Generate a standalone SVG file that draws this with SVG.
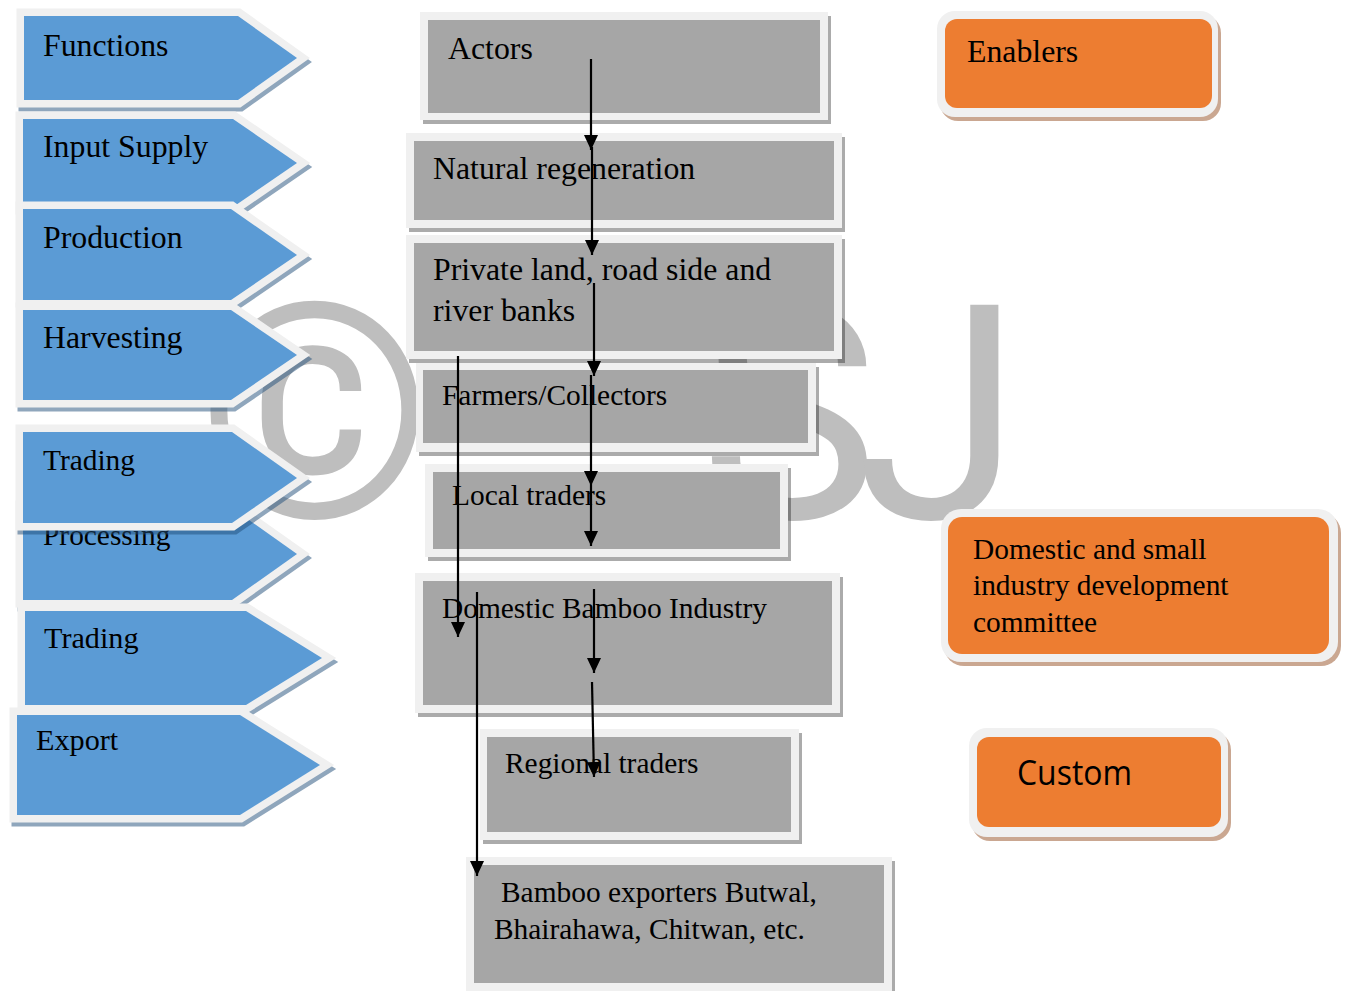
<svg xmlns="http://www.w3.org/2000/svg" width="1346" height="991" viewBox="0 0 1346 991">
<defs>
<style>
.t{font-family:"Liberation Serif","Times New Roman",serif;font-size:31.8px;fill:#000}
.s{font-size:29.4px}
.m{font-size:30.2px}
.wm{font-family:Roboto,"Liberation Sans",sans-serif;font-size:300px;fill:#BEBEBE}
.chev{fill:#5B9BD5;stroke:#F0F0F0;stroke-width:15;stroke-linejoin:miter;stroke-miterlimit:4;paint-order:stroke}
.chs{fill:#1F4E79;fill-opacity:.5;stroke:#1F4E79;stroke-opacity:.5;stroke-width:15;stroke-linejoin:miter;stroke-miterlimit:4}
.bo{fill:#F0F0F0}
.bi{fill:#A6A6A6}
.bs{fill:#000;fill-opacity:.33}
.oo{fill:#F0F0F0}
.oi{fill:#ED7D31}
.os{fill:#8A3C0C;fill-opacity:.45}
.ar{stroke:#000;stroke-width:2.2;fill:none;marker-end:url(#ah)}
</style>
<marker id="ah" markerUnits="userSpaceOnUse" viewBox="0 0 15 14" refX="15" refY="7" markerWidth="15" markerHeight="14" orient="auto">
<path d="M0,0 L15,7 L0,14 z" fill="#000"/>
</marker>
</defs>
<rect width="1346" height="991" fill="#FFFFFF"/>

<g id="watermark">
<text class="wm" x="197" y="517">©</text>
<text class="wm" x="700" y="518">S</text>
<text class="wm" x="856" y="518">J</text>
</g>

<g id="functions">
<polygon class="chs" transform="translate(2,4)" points="24,16 238,16 297,58 238,100 24,100"/>
<polygon class="chev" points="24,16 238,16 297,58 238,100 24,100"/>
<text class="t" x="43" y="56">Functions</text>
</g>
<g id="input-supply">
<polygon class="chs" transform="translate(2,4)" points="23,119 233,119 297,163 233,207 23,207"/>
<polygon class="chev" points="23,119 233,119 297,163 233,207 23,207"/>
<text class="t" x="43" y="157">Input Supply</text>
</g>
<g id="production">
<polygon class="chs" transform="translate(2,4)" points="23,209 231,209 297,255 231,300 23,300"/>
<polygon class="chev" points="23,209 231,209 297,255 231,300 23,300"/>
<text class="t" x="43" y="248">Production</text>
</g>
<g id="harvesting">
<polygon class="chs" transform="translate(2,4)" points="23,310 231,310 297,355 231,400 23,400"/>
<polygon class="chev" points="23,310 231,310 297,355 231,400 23,400"/>
<text class="t" x="43" y="348">Harvesting</text>
</g>
<g id="processing">
<polygon class="chs" transform="translate(2,4)" points="23,508 232,508 297,554 232,600 23,600"/>
<polygon class="chev" points="23,508 232,508 297,554 232,600 23,600"/>
<text class="t s" x="43" y="545">Processing</text>
</g>
<g id="trading-1">
<polygon class="chs" transform="translate(2,4)" points="23,432 232,432 297,478 232,523 23,523"/>
<polygon class="chev" points="23,432 232,432 297,478 232,523 23,523"/>
<text class="t s" x="43" y="470">Trading</text>
</g>
<g id="trading-2">
<polygon class="chs" transform="translate(2,4)" points="25,611 246,611 322,658 246,705 25,705"/>
<polygon class="chev" points="25,611 246,611 322,658 246,705 25,705"/>
<text class="t m" x="44" y="648">Trading</text>
</g>
<g id="export">
<polygon class="chs" transform="translate(2,4)" points="17,715 240,715 320,765 240,815 17,815"/>
<polygon class="chev" points="17,715 240,715 320,765 240,815 17,815"/>
<text class="t m" x="36" y="750">Export</text>
</g>

<g id="actors">
<rect class="bs" x="423" y="16" width="408" height="108"/>
<rect class="bo" x="420" y="12" width="408" height="108"/>
<rect class="bi" x="428" y="20" width="392" height="93"/>
<text class="t" x="448" y="59">Actors</text>
</g>
<g id="natural-regeneration">
<rect class="bs" x="409" y="137" width="436" height="95"/>
<rect class="bo" x="406" y="133" width="436" height="95"/>
<rect class="bi" x="414" y="141" width="420" height="79"/>
<text class="t" x="433" y="179">Natural regeneration</text>
</g>
<g id="private-land">
<rect class="bs" x="409" y="239" width="436" height="124"/>
<rect class="bo" x="406" y="235" width="436" height="124"/>
<rect class="bi" x="414" y="243" width="420" height="108"/>
<text class="t" x="433" y="280">Private land, road side and</text>
<text class="t" x="433" y="321">river banks</text>
</g>
<g id="farmers-collectors">
<rect class="bs" x="419" y="367" width="400" height="89"/>
<rect class="bo" x="416" y="363" width="400" height="89"/>
<rect class="bi" x="423" y="370" width="385" height="73"/>
<text class="t s" x="442" y="405">Farmers/Collectors</text>
</g>
<g id="local-traders">
<rect class="bs" x="428" y="468" width="363" height="93"/>
<rect class="bo" x="425" y="464" width="363" height="93"/>
<rect class="bi" x="433" y="472" width="347" height="77"/>
<text class="t s" x="452" y="505">Local traders</text>
</g>
<g id="domestic-bamboo-industry">
<rect class="bs" x="418" y="577" width="425" height="140"/>
<rect class="bo" x="415" y="573" width="425" height="140"/>
<rect class="bi" x="423" y="581" width="409" height="124"/>
<text class="t s" x="442" y="618">Domestic Bamboo Industry</text>
</g>
<g id="regional-traders">
<rect class="bs" x="483" y="733" width="319" height="111"/>
<rect class="bo" x="480" y="729" width="319" height="111"/>
<rect class="bi" x="487" y="737" width="304" height="95"/>
<text class="t s" x="505" y="773">Regional traders</text>
</g>
<g id="bamboo-exporters">
<rect class="bs" x="469" y="861" width="426" height="140"/>
<rect class="bo" x="466" y="857" width="426" height="140"/>
<rect class="bi" x="474" y="865" width="410" height="118"/>
<text class="t s" x="501" y="902">Bamboo exporters Butwal,</text>
<text class="t s" x="494" y="939">Bhairahawa, Chitwan, etc.</text>
</g>

<g id="enablers">
<rect class="os" x="940" y="15" width="281" height="106" rx="18"/>
<rect class="oo" x="937" y="11" width="281" height="106" rx="18"/>
<rect class="oi" x="945" y="19" width="267" height="89" rx="12"/>
<text class="t" x="967" y="62">Enablers</text>
</g>
<g id="domestic-small-industry">
<rect class="os" x="944" y="513" width="397" height="153" rx="20"/>
<rect class="oo" x="941" y="509" width="397" height="153" rx="20"/>
<rect class="oi" x="948" y="517" width="381" height="137" rx="14"/>
<text class="t s" x="973" y="559">Domestic and small</text>
<text class="t s" x="973" y="595">industry development</text>
<text class="t s" x="973" y="632">committee</text>
</g>
<g id="custom">
<rect class="os" x="972" y="732" width="259" height="109" rx="18"/>
<rect class="oo" x="969" y="728" width="259" height="109" rx="18"/>
<rect class="oi" x="977" y="737" width="244" height="90" rx="12"/>
<text x="1017" y="785" font-family="'Open Sans','Noto Sans',sans-serif" font-size="35" textLength="115" lengthAdjust="spacingAndGlyphs" fill="#000">Custom</text>
</g>

<g id="connectors">
<line class="ar" x1="591" y1="59" x2="591" y2="150"/>
<line class="ar" x1="592" y1="147" x2="592" y2="255"/>
<line class="ar" x1="594" y1="283" x2="594" y2="376"/>
<line class="ar" x1="591" y1="375" x2="591" y2="486"/>
<line class="ar" x1="591" y1="486" x2="591" y2="546"/>
<line class="ar" x1="458" y1="356" x2="458" y2="637"/>
<line class="ar" x1="594" y1="589" x2="594" y2="673"/>
<line class="ar" x1="592" y1="682" x2="594" y2="777"/>
<line class="ar" x1="477" y1="592" x2="477" y2="876"/>
</g>
</svg>
